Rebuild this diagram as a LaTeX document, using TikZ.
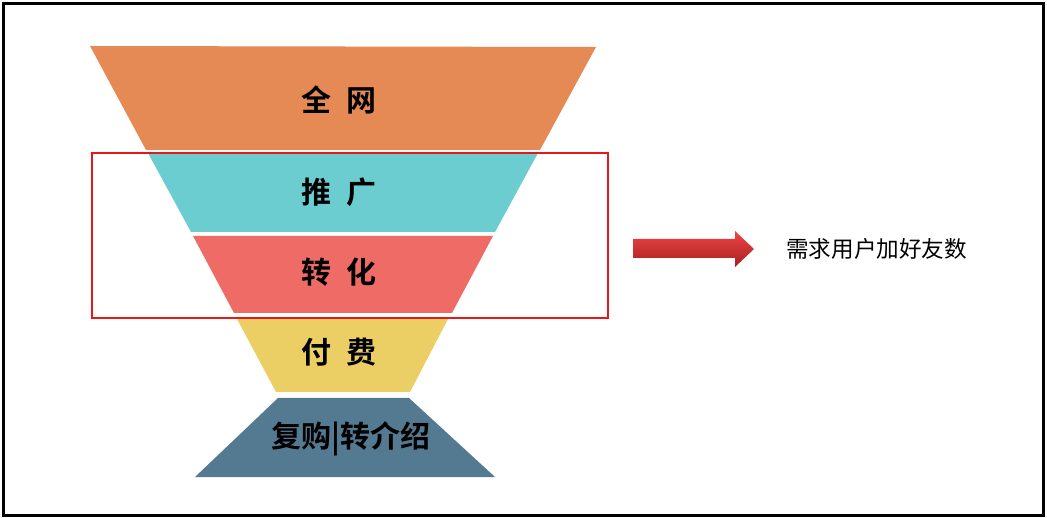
\documentclass[tikz,border=0pt]{standalone}
\usepackage{fontspec}
\newfontfamily\cjk{Noto Sans CJK SC}[BoldFont={Noto Sans CJK SC Bold}]
\usetikzlibrary{calc}
\definecolor{cOrange}{HTML}{E68A55}
\definecolor{cTeal}{HTML}{6BCDD0}
\definecolor{cSalmon}{HTML}{EE6B66}
\definecolor{cYellow}{HTML}{EBCF65}
\definecolor{cBlue}{HTML}{547A92}
\definecolor{cFrame}{HTML}{E81818}
\definecolor{cArrTop}{HTML}{EE4545}
\definecolor{cArrBot}{HTML}{A82020}
\tikzset{
  layerlabel/.style={font=\cjk\bfseries\fontsize{30}{34}\selectfont, text=black, inner sep=0pt},
  sidelabel/.style={font=\cjk\fontsize{22.6}{26}\selectfont, text=black, inner sep=0pt, anchor=west},
}
\begin{document}
\begin{tikzpicture}[x=1pt,y=-1pt]
\useasboundingbox (0,0) rectangle (1047,518);
\fill[white] (0,0) rectangle (1047,518);
\draw[black, line width=3pt] (3,4) rectangle (1043,515);
% funnel layers
\fill[cOrange] (90,46) -- (596,47) -- (540,150) -- (146,150) -- cycle;
\fill[cTeal] (148,153) -- (538,153) -- (495,232) -- (191,232) -- cycle;
\fill[cSalmon] (193,236) -- (493,236) -- (452,313) -- (234,313) -- cycle;
\fill[cYellow] (237,319) -- (448,319) -- (410,392) -- (276,392) -- cycle;
\fill[cBlue] (278,398) -- (409,398) -- (495,477) -- (195,477) -- cycle;
% labels
\node[layerlabel] (l1) at (339,100) {全\hspace{0.5em}网};
\node[layerlabel] (l2) at (339,192) {推\hspace{0.5em}广};
\node[layerlabel] (l3) at (339,272) {转\hspace{0.5em}化};
\node[layerlabel] (l4) at (339,352) {付\hspace{0.5em}费};
\node[layerlabel] (l5) at (351,439) {复购|转介绍};
% highlight box
\draw[cFrame, line width=1.5pt] (92,153) rectangle (608,318);
% block arrow
\shade[top color=cArrTop, bottom color=cArrBot]
  (633,239) -- (735,239) -- (735,231) -- (754,249) -- (735,267) -- (735,258) -- (633,258) -- cycle;
\node[sidelabel] (side) at (786,249) {需求用户加好友数};
\end{tikzpicture}
\end{document}
